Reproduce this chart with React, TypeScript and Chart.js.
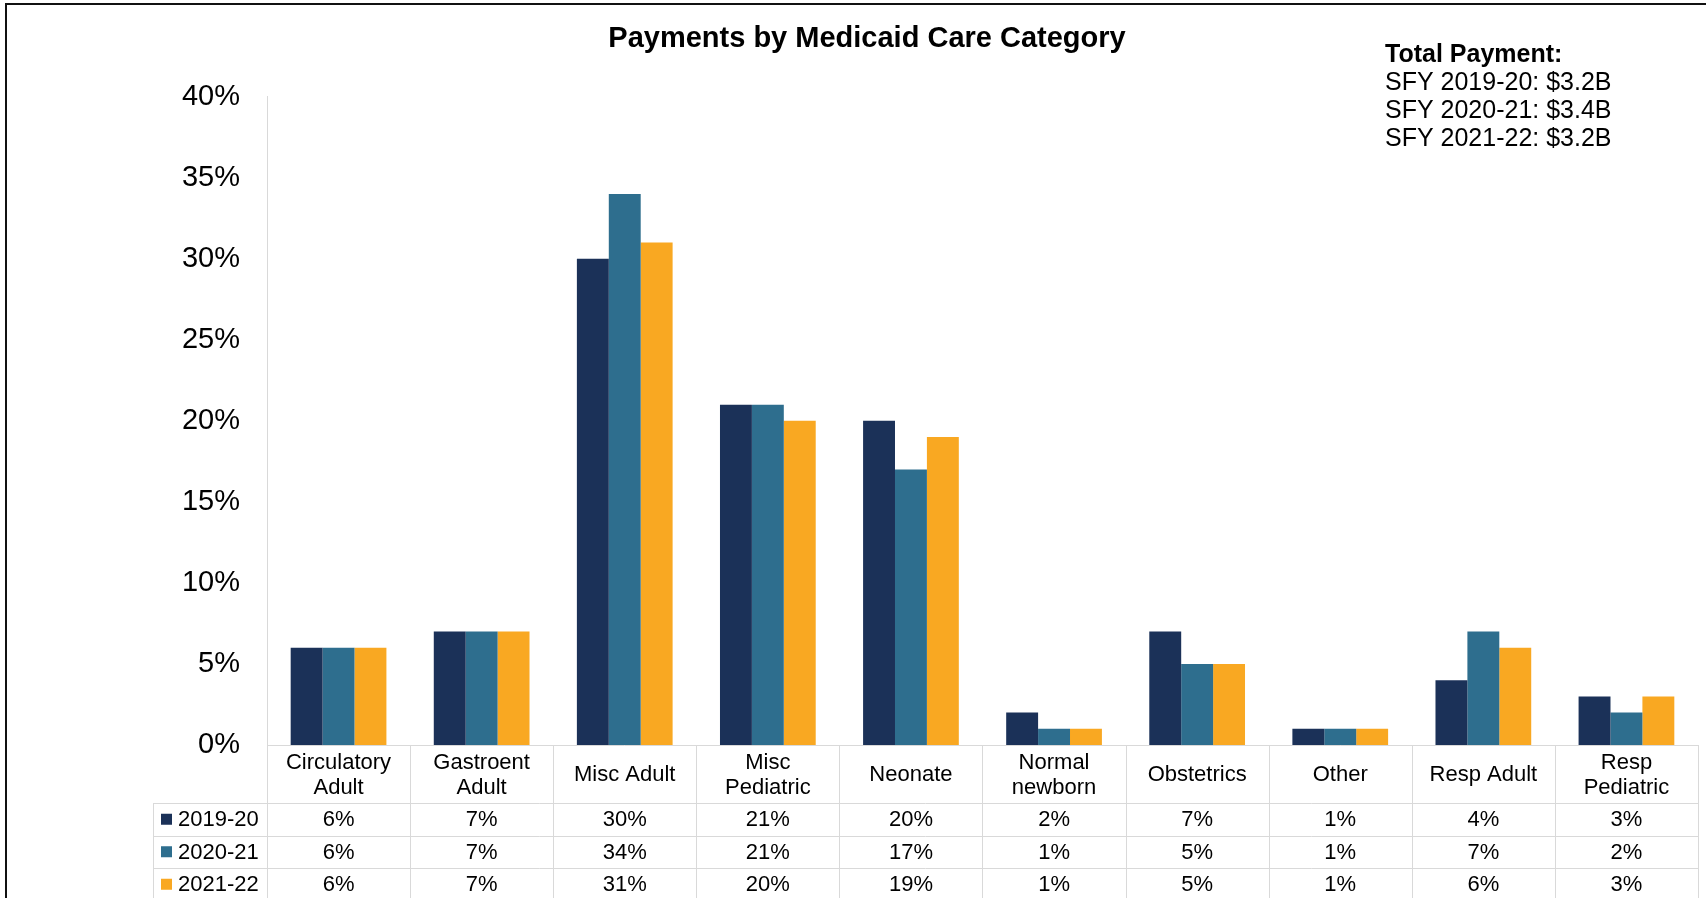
import React, { useEffect, useRef } from "react";
import { Chart, registerables } from "chart.js";

Chart.register(...registerables);

// ---------- data ----------
const categories: string[][] = [
  ["Circulatory", "Adult"],
  ["Gastroent", "Adult"],
  ["Misc Adult"],
  ["Misc", "Pediatric"],
  ["Neonate"],
  ["Normal", "newborn"],
  ["Obstetrics"],
  ["Other"],
  ["Resp Adult"],
  ["Resp", "Pediatric"],
];
const seriesLabels = ["2019-20", "2020-21", "2021-22"];
const values2019_20 = [6, 7, 30, 21, 20, 2, 7, 1, 4, 3];
const values2020_21 = [6, 7, 34, 21, 17, 1, 5, 1, 7, 2];
const values2021_22 = [6, 7, 31, 20, 19, 1, 5, 1, 6, 3];
const yMax = 40;
const yStep = 5;
const titleText = "Payments by Medicaid Care Category";
const totalPaymentHeader = "Total Payment:";
const totalPaymentLines = [
  "SFY 2019-20: $3.2B",
  "SFY 2020-21: $3.4B",
  "SFY 2021-22: $3.2B",
];

// ---------- styles ----------
const seriesColors = ["#1B3158", "#2E6E8E", "#F9A822"];
const FONT = "'Liberation Sans', Arial, sans-serif";
const GRID_COLOR = "#d9d9d9";

const headerRowH = 58;
const dataRowH = 32.5;
const legendColLeft = 153;

const titlePlugin = {
  id: "customTitle",
  afterDraw(chart: any) {
    const ctx = chart.ctx as CanvasRenderingContext2D;
    ctx.save();
    ctx.fillStyle = "#000";
    ctx.textBaseline = "alphabetic";
    ctx.textAlign = "center";
    ctx.font = `bold 29px ${FONT}`;
    ctx.fillText(titleText, 867, 47);
    ctx.textAlign = "left";
    ctx.font = `bold 25px ${FONT}`;
    ctx.fillText(totalPaymentHeader, 1385, 62);
    ctx.font = `25px ${FONT}`;
    totalPaymentLines.forEach((line, i) => {
      ctx.fillText(line, 1385, 90 + i * 28);
    });
    ctx.restore();
  },
};

const tablePlugin = {
  id: "dataTable",
  afterDraw(chart: any) {
    const ctx = chart.ctx as CanvasRenderingContext2D;
    const area = chart.chartArea;
    const x = chart.scales.x;
    const n = categories.length;
    const step = x.getPixelForValue(1) - x.getPixelForValue(0);
    const bounds: number[] = [];
    for (let i = 0; i <= n; i++) bounds.push(x.getPixelForValue(0) - step / 2 + i * step);
    const top = area.bottom;
    const headerBottom = top + headerRowH;
    const series = chart.data.datasets;
    const tableBottom = headerBottom + dataRowH * series.length;
    const right = bounds[n];

    ctx.save();
    ctx.strokeStyle = GRID_COLOR;
    ctx.lineWidth = 1;
    ctx.beginPath();
    ctx.moveTo(bounds[0], top + 0.5);
    ctx.lineTo(right, top + 0.5);
    for (let r = 0; r <= series.length; r++) {
      const y = Math.round(headerBottom + r * dataRowH) + 0.5;
      ctx.moveTo(legendColLeft, y);
      ctx.lineTo(right, y);
    }
    for (let i = 0; i <= n; i++) {
      const bx = Math.round(bounds[i]) + 0.5;
      ctx.moveTo(bx, top);
      ctx.lineTo(bx, tableBottom);
    }
    ctx.moveTo(legendColLeft + 0.5, headerBottom);
    ctx.lineTo(legendColLeft + 0.5, tableBottom);
    ctx.stroke();

    ctx.fillStyle = "#000";
    ctx.font = `22px ${FONT}`;
    ctx.textAlign = "center";
    ctx.textBaseline = "middle";
    const headerMid = top + headerRowH / 2;
    const lineH = 25;
    categories.forEach((lines, i) => {
      const cx = x.getPixelForValue(i);
      lines.forEach((t, k) => {
        const y = headerMid + (k - (lines.length - 1) / 2) * lineH;
        ctx.fillText(t, cx, y + 1);
      });
    });

    series.forEach((ds: any, r: number) => {
      const cy = headerBottom + dataRowH * (r + 0.5);
      ctx.fillStyle = ds.backgroundColor;
      ctx.fillRect(161, cy - 5.5, 11, 11);
      ctx.fillStyle = "#000";
      ctx.textAlign = "left";
      ctx.fillText(ds.label, 178, cy + 1);
      ctx.textAlign = "center";
      (ds.data as number[]).forEach((v, i) => {
        ctx.fillText(`${v}%`, x.getPixelForValue(i), cy + 1);
      });
    });
    ctx.restore();
  },
};

export default function App() {
  const canvasRef = useRef<HTMLCanvasElement | null>(null);

  useEffect(() => {
    if (!canvasRef.current) return;
    const allSeries = [values2019_20, values2020_21, values2021_22];
    const chart = new Chart(canvasRef.current, {
      type: "bar",
      data: {
        labels: categories,
        datasets: allSeries.map((d, i) => ({
          label: seriesLabels[i],
          data: d,
          backgroundColor: seriesColors[i],
          borderWidth: 0,
          categoryPercentage: 0.669,
          barPercentage: 1.0,
        })),
      },
      options: {
        responsive: false,
        animation: false,
        devicePixelRatio: 1,
        layout: { padding: { top: 96.7, right: 8, left: 0, bottom: 0 } },
        plugins: {
          legend: { display: false },
          title: { display: false },
          tooltip: { enabled: false },
        },
        scales: {
          x: {
            type: "category",
            grid: { display: false, drawTicks: false },
            border: { display: false },
            ticks: { display: false },
            afterFit: (s: any) => {
              s.height = 153;
            },
          },
          y: {
            min: 0,
            max: yMax,
            grid: { display: false, drawTicks: false },
            border: { display: true, color: GRID_COLOR, width: 1 },
            ticks: {
              stepSize: yStep,
              padding: 27,
              color: "#000",
              font: { family: FONT, size: 29 },
              callback: (v: any) => `${v}%`,
            },
            afterFit: (s: any) => {
              s.width = 267;
            },
          },
        },
      },
      plugins: [titlePlugin, tablePlugin],
    });
    return () => chart.destroy();
  }, []);

  return (
    <div
      style={{
        position: "fixed",
        left: 0,
        top: 0,
        width: 1706,
        height: 898,
        overflow: "hidden",
        background: "#fff",
      }}
    >
      <canvas
        ref={canvasRef}
        width={1706}
        height={898}
        style={{ position: "absolute", left: 0, top: 0, width: 1706, height: 898 }}
      />
      <div
        style={{
          position: "absolute",
          left: 5,
          top: 3,
          width: 1800,
          height: 1000,
          border: "2px solid #111",
          pointerEvents: "none",
        }}
      />
    </div>
  );
}
